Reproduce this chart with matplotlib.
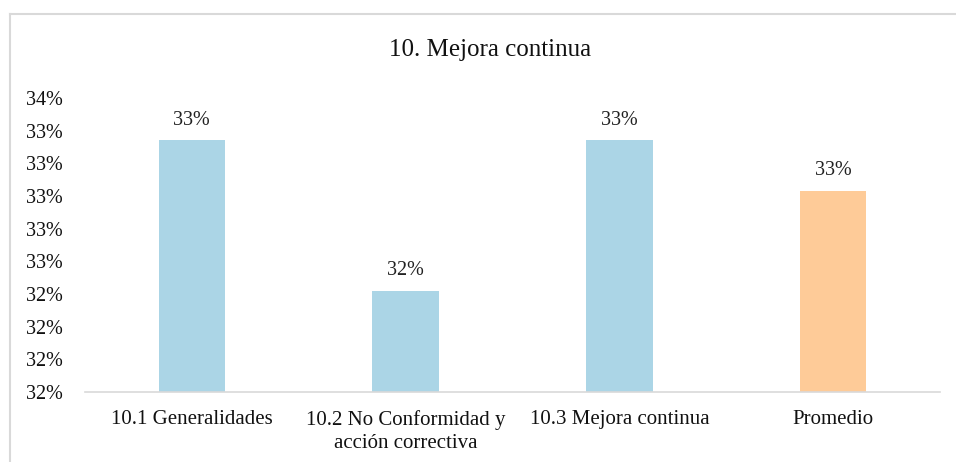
import matplotlib
matplotlib.use("Agg")
import matplotlib.pyplot as plt
from matplotlib.ticker import FuncFormatter, MultipleLocator
from matplotlib.lines import Line2D

categories = ["10.1 Generalidades", "10.2 No Conformidad y\nacción correctiva",
              "10.3 Mejora continua", "Promedio"]
values = [0.3334, 0.3242, 0.3334, 0.3303]
colors = ["#abd5e6", "#abd5e6", "#abd5e6", "#fecb98"]
title = "10. Mejora continua"

plt.rcParams['font.family'] = ['Liberation Serif', 'DejaVu Serif']

W, H = 956, 462
fig = plt.figure(figsize=(W / 100, H / 100), dpi=100)
ax = fig.add_axes([85 / W, 1 - 392 / H, 855 / W, (392 - 98) / H])

x = list(range(len(categories)))
ax.bar(x, values, width=0.31, color=colors, zorder=2)
ax.set_xlim(-0.5, len(categories) - 0.5)
ax.set_ylim(0.318, 0.336)
ax.yaxis.set_major_locator(MultipleLocator(0.002))
ax.yaxis.set_major_formatter(FuncFormatter(lambda v, p: f"{int(v * 100 + 0.5)}%"))

for xi, v in zip(x, values):
    ax.text(xi, v + 0.00065, f"{int(v * 100 + 0.5)}%", ha="center", va="bottom",
            fontsize=14.5, color="#222222")

ax.set_xticks(x)
ax.set_xticklabels(categories, fontsize=15, color="#111111", linespacing=1.3)
ax.tick_params(axis="x", length=0, pad=13)
ax.tick_params(axis="y", length=0, pad=16, labelsize=14.5, labelcolor="#111111")
for s in ["top", "right", "left"]:
    ax.spines[s].set_visible(False)
ax.spines["bottom"].set_color("#d9d9d9")
ax.spines["bottom"].set_linewidth(1.2)

fig.text(490 / W, 1 - 50 / H, title, ha="center", va="center", fontsize=18, color="#111111")

# outer chart border (partially visible)
fig.add_artist(Line2D([10 / W, 10 / W], [0, 1 - 14 / H], transform=fig.transFigure,
                      color="#d9d9d9", lw=1.5))
fig.add_artist(Line2D([10 / W, 1], [1 - 14 / H, 1 - 14 / H], transform=fig.transFigure,
                      color="#d9d9d9", lw=1.5))

fig.savefig("out.png", dpi=100, facecolor="white")
